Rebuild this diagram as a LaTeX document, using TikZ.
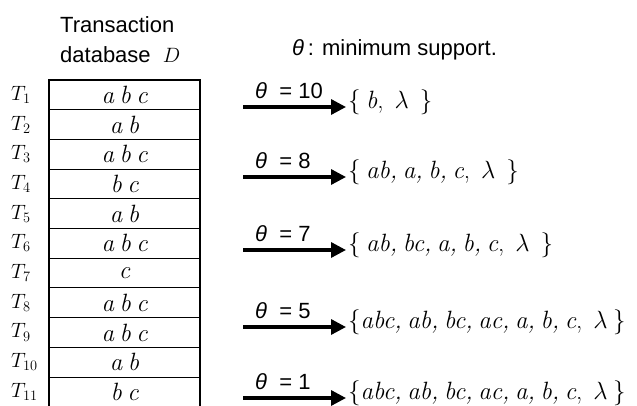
\documentclass[tikz,border=0pt]{standalone}
\usepackage{fontspec}
\newfontfamily\arialf{Liberation Sans}
\usetikzlibrary{arrows.meta}
\newcommand\tightsp{\spaceskip=0.22em plus 0.05em\relax\xspaceskip=0.22em\relax}
\tikzset{
  thick border/.style={line width=2.8pt, line cap=rect},
  divider/.style={line width=0.9pt},
  cell/.style={font=\itshape\fontsize{25}{27}\selectfont\tightsp, inner sep=0pt},
  tlab/.style={font=\fontsize{20}{22}\selectfont, inner sep=0pt, anchor=west},
  header/.style={font=\arialf\fontsize{22}{24}\selectfont, inner sep=0pt, anchor=west},
  thlab/.style={font=\arialf\fontsize{22}{24}\selectfont, inner sep=0pt, anchor=base west},
  setlab/.style={font=\fontsize{25}{27}\selectfont\tightsp, inner sep=0pt, anchor=west},
  implies/.style={line width=3.3pt, -{Triangle[length=15pt,width=15pt]}, shorten >=2pt}
}
\begin{document}
\begin{tikzpicture}[x=1pt,y=-1pt]
\useasboundingbox (0,0) rectangle (637,405);
% header
\node[header] (hdr1) at (60,25) {Transaction};
\node[header] (hdr2) at (60,55) {database~~$D$};
\node[header] (theta) at (292,50) {\textit{θ}\,: minimum support.};
% table
\draw[thick border] (49,405) -- (49,80) -- (200,80) -- (200,405);
\foreach \k in {1,...,10} {
  \draw[divider] (49,{80+29.7*\k}) -- (200,{80+29.7*\k});
}
\foreach \k/\t in {1/a b c,2/a b,3/a b c,4/b c,5/a b,6/a b c,7/c,8/a b c,9/a b c,10/a b,11/b c} {
  \node[cell] (c\k) at (124.5,{80+29.7*(\k-0.5)}) {\t};
  \node[tlab] (t\k) at (11,{80+29.7*(\k-0.5)}) {$T_{\k}$};
}
% arrows
\foreach \i/\y/\v/\s in {
  1/107/10/{\{ \textit{b},\ \ $\lambda$\ \ \}},
  2/177/8/{\{ \textit{ab, a, b, c},\ \ $\lambda$\ \ \}},
  3/250/7/{\{ \textit{ab, bc, a, b, c},\ \ $\lambda$\ \ \}},
  4/327/5/{\{\textit{abc, ab, bc, ac, a, b, c},\ \ $\lambda$ \}},
  5/398/1/{\{\textit{abc, ab, bc, ac, a, b, c},\ \ $\lambda$ \}}} {
  \coordinate (s\i) at (243,\y);
  \node[setlab] (set\i) at (348,\y-5) {\s};
  \draw[implies] (s\i) -- (s\i -| set\i.west);
  \node[thlab] (lab\i) at (255,\y-9) {\textit{θ}~ = \v};
}
\end{tikzpicture}
\end{document}
